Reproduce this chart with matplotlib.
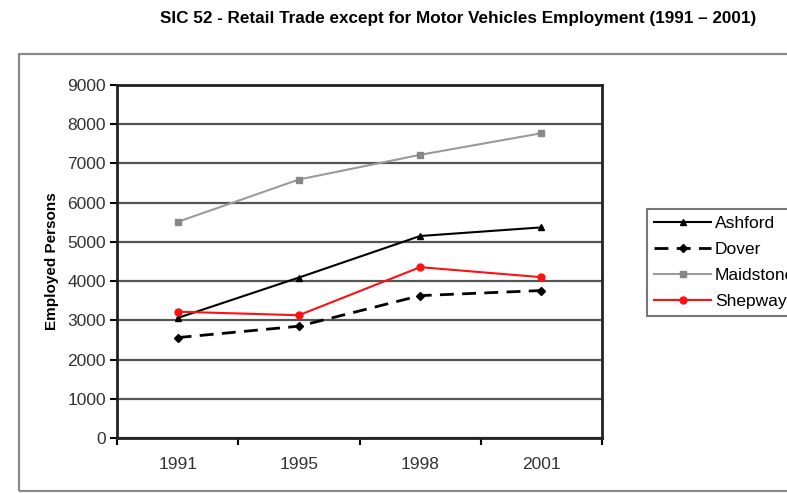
import matplotlib
matplotlib.use("Agg")
import matplotlib.pyplot as plt
from matplotlib.patches import Rectangle

years = ["1991", "1995", "1998", "2001"]
ashford = [3060, 4090, 5150, 5370]
dover = [2560, 2850, 3630, 3760]
maidstone = [5510, 6590, 7220, 7770]
shepway = [3220, 3130, 4355, 4100]
y_ticks = [0, 1000, 2000, 3000, 4000, 5000, 6000, 7000, 8000, 9000]

plt.rcParams['font.family'] = ['Liberation Sans', 'DejaVu Sans']

fig = plt.figure(figsize=(7.87, 4.93), dpi=100)
fig.patch.set_facecolor('white')

# outer chart frame
fig.patches.append(Rectangle((19/787, 1 - 491/493), 1.2, (491-54)/493,
                             transform=fig.transFigure, fill=False,
                             edgecolor='#8a8a8a', linewidth=1.6, zorder=0))

ax = fig.add_axes([117/787, 1 - 438/493, (602-117)/787, (438-85)/493])
x = list(range(len(years)))

ax.plot(x, ashford, color='black', lw=1.5, marker='^', ms=5, label='Ashford', zorder=4)
ax.plot(x, dover, color='black', lw=2.0, ls=(0, (5, 3)), marker='D', ms=4.5, label='Dover', zorder=4)
ax.plot(x, maidstone, color='#9a9a9a', lw=1.5, marker='s', ms=5, mfc='#888888', mec='#888888', label='Maidstone', zorder=3)
ax.plot(x, shepway, color='#ff1010', lw=1.5, marker='o', ms=5, label='Shepway', zorder=5)

ax.set_xlim(-0.5, 3.5)
ax.set_ylim(0, 9000)
ax.set_yticks(y_ticks)
ax.set_yticklabels([str(v) for v in y_ticks], fontsize=12.5, color='#333333')
ax.set_xticks(x)
ax.set_xticklabels(years, fontsize=12.5, color='#333333')
ax.set_xticks([-0.5, 0.5, 1.5, 2.5, 3.5], minor=True)
ax.tick_params(axis='x', which='major', length=0, pad=14)
ax.tick_params(axis='x', which='minor', length=5, width=1.5, direction='out')
ax.tick_params(axis='y', length=5, width=1.5, direction='out', pad=3)
ax.yaxis.grid(True, color='#555555', lw=1.6)
ax.set_axisbelow(True)
for s in ax.spines.values():
    s.set_linewidth(2.0)
    s.set_color('#222222')

ax.set_ylabel('Employed Persons', fontsize=11, fontweight='bold', labelpad=6)

fig.text(458/787, 1 - 18/493, 'SIC 52 - Retail Trade except for Motor Vehicles Employment (1991 \u2013 2001)',
         ha='center', va='center', fontsize=12.3, fontweight='bold')

leg = fig.legend(loc='upper left', bbox_to_anchor=(647/787, 1 - 209/493),
                 fontsize=12.5, frameon=True, fancybox=False, handlelength=3.3,
                 handletextpad=0.2, labelspacing=0.62, borderpad=0.4, borderaxespad=0)
leg.get_frame().set_edgecolor('#555555')
leg.get_frame().set_linewidth(1.5)

fig.savefig('out.png', dpi=100, facecolor='white')
